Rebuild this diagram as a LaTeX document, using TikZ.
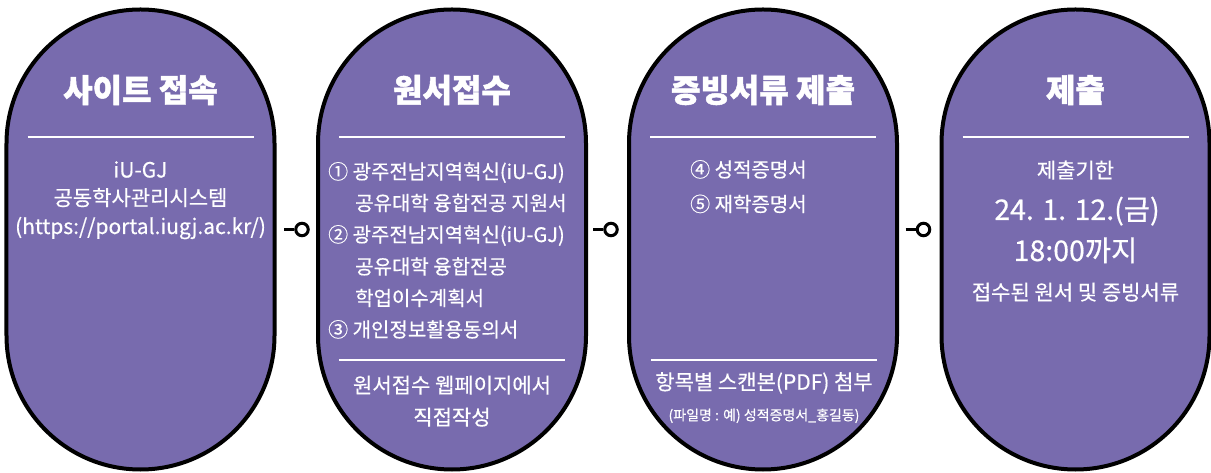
\documentclass[tikz,border=0pt]{standalone}
\usepackage{fontspec}
\setmainfont{Noto Sans CJK KR}[FakeBold=0.5]
\newfontfamily\titlefont{Noto Sans CJK KR}[BoldFeatures={FakeBold=1.5}]
\definecolor{capsulepurple}{RGB}{120,107,174}

\begin{document}
\begin{tikzpicture}[x=1bp, y=-1bp,
		capsule/.style={draw=black, line width=4bp, fill=capsulepurple, rounded corners=134bp, minimum width=268bp, minimum height=460bp, inner sep=0pt},
		title/.style={text=white, anchor=base, inner sep=0pt, font=\titlefont\fontsize{32bp}{38bp}\selectfont\bfseries},
		body/.style={text=white, anchor=base, inner sep=0pt, font=\fontsize{21bp}{25bp}\selectfont},
		item/.style={text=white, anchor=base west, inner sep=0pt, font=\fontsize{20bp}{24bp}\selectfont},
		big/.style={text=white, anchor=base, inner sep=0pt, font=\fontsize{28.5bp}{34bp}\selectfont},
		small/.style={text=white, anchor=base, inner sep=0pt, font=\fontsize{14bp}{17bp}\selectfont},
		sepline/.style={draw=white, line width=2bp},
		knob/.style={circle, draw=black, line width=3bp, minimum size=12.5bp, inner sep=0pt},
		link/.style={draw=black, line width=3bp}]
	\fill[white] (0,0) rectangle (1211,473);
	\useasboundingbox (0,0) rectangle (1211,473);

	\foreach \i/\x in {1/140.5, 2/452, 3/763, 4/1075.5}
	{
		\node[capsule] (c_\i) at (\x, 239.5) {};
		\draw[sepline] (\x - 113, 137) -- (\x + 113, 137);
	}
	\foreach \x in {452, 764}
	{
		\draw[sepline] (\x - 113, 360) -- (\x + 113, 360);
	}

	% titles
	\node[title] (t_1) at (140.5, 102) {사이트 접속};
	\node[title] (t_2) at (452, 102) {원서접수};
	\node[title] (t_3) at (763, 102) {증빙서류 제출};
	\node[title] (t_4) at (1075.5, 102) {제출};

	% site
	\node[body] (a_1) at (140.5, 177.5) {iU-GJ};
	\node[body] (a_2) at (140.5, 205.5) {공동학사관리시스템};
	\node[body] (a_3) at (140.5, 234) {(https://portal.iugj.ac.kr/)};

	% application
	\node[item] (b_1) at (328, 179) {① 광주전남지역혁신(iU-GJ)};
	\node[item] (b_2) at (355, 210.5) {공유대학 융합전공 지원서};
	\node[item] (b_3) at (328, 242) {② 광주전남지역혁신(iU-GJ)};
	\node[item] (b_4) at (355, 274) {공유대학 융합전공};
	\node[item] (b_5) at (355, 305.5) {학업이수계획서};
	\node[item] (b_6) at (328, 337) {③ 개인정보활용동의서};
	\node[body] (b_7) at (452, 393) {원서접수 웹페이지에서};
	\node[body] (b_8) at (452, 425) {직접작성};

	% documents
	\node[item] (d_1) at (690, 177) {④ 성적증명서};
	\node[item] (d_2) at (690, 211.5) {⑤ 재학증명서};
	\node[body] (d_3) at (764, 389.7) {항목별 스캔본(PDF) 첨부};
	\node[small] (d_4) at (764, 420.3) {(파일명 : 예) 성적증명서\_홍길동)};

	% submit
	\node[body] (e_1) at (1075.5, 178) {제출기한};
	\node[big] (e_2) at (1077, 220) {24. 1. 12.(금)};
	\node[big] (e_3) at (1075.5, 261) {18:00까지};
	\node[body] (e_4) at (1075.5, 300) {접수된 원서 및 증빙서류};

	\foreach \i/\x in {1/302, 2/611, 3/923.5}
	{
		\coordinate (s_\i) at (\x - 18, 229.5);
		\node[knob] (k_\i) at (\x, 229.5) {};
		\draw[link] (s_\i) -- (k_\i);
	}
\end{tikzpicture}
\end{document}
